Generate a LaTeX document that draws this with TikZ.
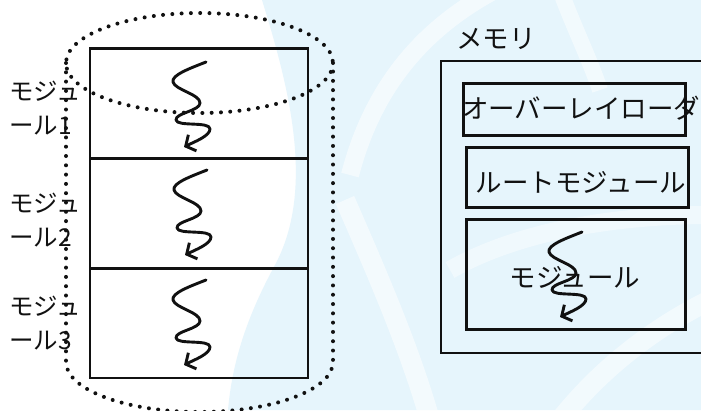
\documentclass[tikz,border=0pt]{standalone}
\usepackage{fontspec}
\newfontfamily\jp{Noto Sans CJK JP}
\usetikzlibrary{arrows.meta}
\definecolor{bgblue}{RGB}{230,245,252}
\definecolor{ink}{RGB}{17,17,17}

\begin{document}
\begin{tikzpicture}[x=1pt,y=-1pt,
  modbox/.style={draw=ink, line width=2.7pt, inner sep=0pt, minimum width=218pt, minimum height=109.7pt},
  membox/.style={draw=ink, line width=2.5pt, inner sep=0pt},
  inbox/.style={draw=ink, line width=3pt, inner sep=0pt},
  dotline/.style={draw=ink, line width=4pt, line cap=round, dash pattern=on 0pt off 9.3pt},
  squig/.style={draw=ink, line width=2.9pt, line cap=round, line join=round,
    -{Straight Barb[length=7.5pt,width=18pt,line width=2.9pt]}},
  lbl/.style={font=\jp\fontsize{24.5}{34}\selectfont, align=left, inner sep=0pt, anchor=west, text=ink},
  txt/.style={font=\jp\fontsize{26.5}{30}\selectfont, inner sep=0pt, text=ink},
  pics/squiggle/.style={code={
    \draw[squig] (0,0) .. controls (-15,6) and (-35,13) .. (-33,20)
      .. controls (-31,28) and (-6,32) .. (-6,41)
      .. controls (-6,49) and (-31,51) .. (-30,58)
      .. controls (-29,65) and (4,59) .. (4,67)
      .. controls (4,74) and (-12,80) .. (-22,85);
  }}]

\useasboundingbox (0,0) rectangle (701,410);
\clip (0,0) rectangle (701,410);

% faint background swirl
\fill[white] (0,0) rectangle (701,410);
\fill[bgblue] (262,0) .. controls (290,90) and (315,190) .. (275,265)
  .. controls (245,320) and (232,365) .. (228,410) -- (701,410) -- (701,0) -- cycle;
\draw[white, line width=18pt, opacity=.55] (350,175) .. controls (372,90) and (420,30) .. (495,-10);
\draw[white, line width=16pt, opacity=.5] (560,-10) .. controls (575,30) and (590,60) .. (600,90);
\draw[white, line width=20pt, opacity=.55] (345,200) .. controls (380,280) and (410,350) .. (430,420);
\draw[white, line width=18pt, opacity=.4] (450,270) .. controls (520,230) and (620,215) .. (710,215);
\draw[white, line width=20pt, opacity=.5] (560,420) .. controls (600,370) and (650,330) .. (710,300);

% stacked modules
\node[modbox] (m1) at (199,103.5) {};
\node[modbox] (m2) at (199,213) {};
\node[modbox] (m3) at (199,323) {};
\pic at (206,62) {squiggle};
\pic at (207,170) {squiggle};
\pic at (206,280) {squiggle};

% dotted cylinder around the modules
\draw[dotline] (199.5,63) ellipse [x radius=133.5, y radius=50];
\draw[dotline] (66,63) -- (66,362) arc [start angle=180, end angle=0, x radius=133.5, y radius=50] -- (333,63);

% module labels
\node[lbl] (l1) at (9,108) {モジュ\\ール1};
\node[lbl] (l2) at (9,220) {モジュ\\ール2};
\node[lbl] (l3) at (9,323) {モジュ\\ール3};

% memory
\node[txt] (memlbl) at (496,39) {メモリ};
\node[membox, minimum width=271pt, minimum height=292pt] (mem) at (576.5,207) {};
\node[inbox, minimum width=221.5pt, minimum height=51.5pt] (ovl) at (574.25,109.25) {};
\node[txt, anchor=west] (ovltxt) at (462,108) {オーバーレイローダ};
\node[inbox, minimum width=222pt, minimum height=60pt] (root) at (577,177) {};
\node[txt] (roottxt) at (581,182) {ルートモジュール};
\node[inbox, minimum width=219pt, minimum height=110pt] (mod) at (575.5,274) {};
\node[txt] (modtxt) at (575,277) {モジュール};
\pic at (582,232) {squiggle};
\end{tikzpicture}
\end{document}
